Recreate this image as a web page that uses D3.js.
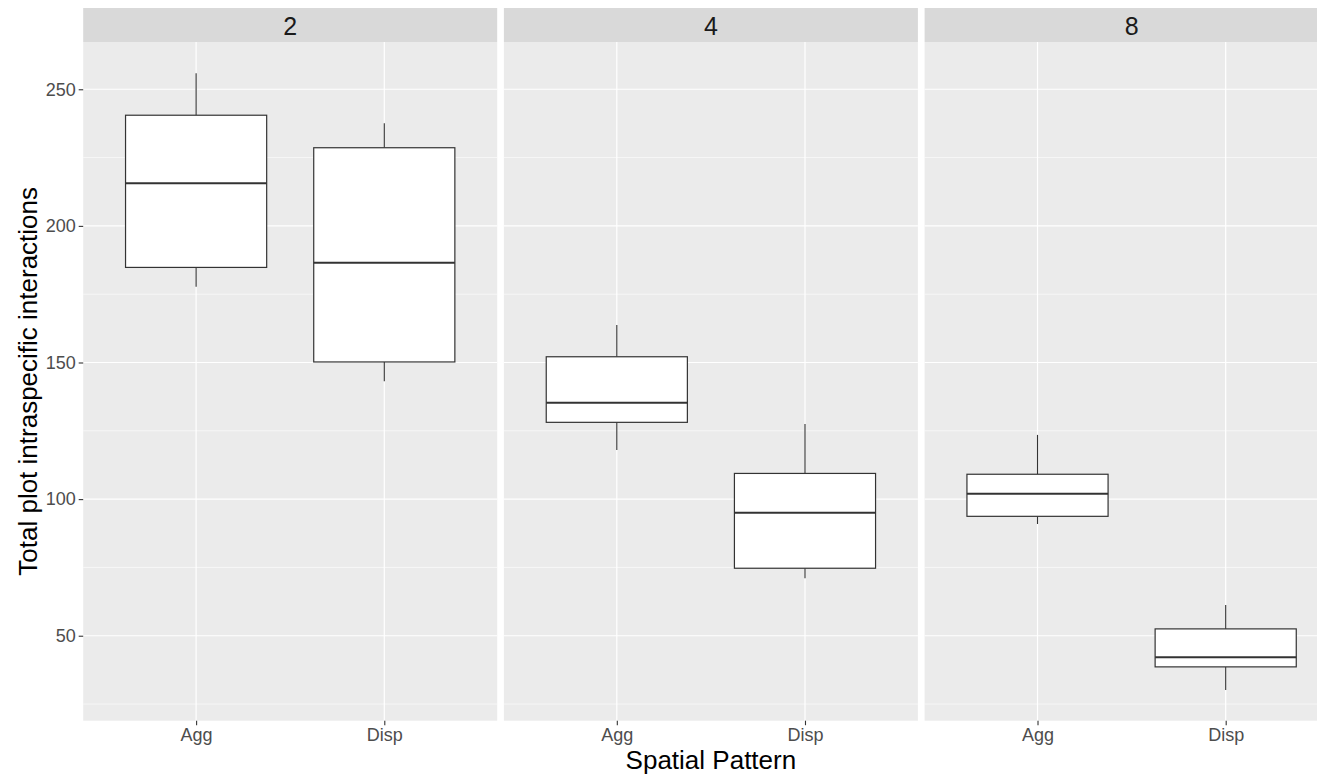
<!DOCTYPE html>
<html>
<head>
<meta charset="utf-8">
<script src="https://cdn.jsdelivr.net/npm/d3@7"></script>
<style>
  body { margin: 0; background: #fff; }
  svg { display: block; font-family: "Liberation Sans", Arial, sans-serif; }
</style>
</head>
<body>
<div id="chart"></div>
<script>
// facets and categories
var facets = ["2", "4", "8"];
var patterns = ["Agg", "Disp"];

// box stats per facet, order Agg then Disp
var lowWhisker = [[177.7, 143.1], [118.0, 71.0], [90.9, 30.1]];
var q1Values   = [[184.8, 150.2], [128.1, 74.7], [93.7, 38.6]];
var medians    = [[215.6, 186.5], [135.3, 95.0], [102.0, 42.1]];
var q3Values   = [[240.5, 228.6], [152.1, 109.4], [109.1, 52.5]];
var highWhisker = [[255.9, 237.6], [163.7, 127.5], [123.5, 61.2]];

var yTicks = [50, 100, 150, 200, 250];
var yMinor = [25, 75, 125, 175, 225];

var width = 1317, height = 776;
var panelTop = 42, panelBottom = 720.7;
var stripTop = 8;
var panelLeft = 83.2, panelW = 414, gap = 6.7;

var svg = d3.select("#chart").append("svg")
  .attr("width", width)
  .attr("height", height);

var y = d3.scaleLinear().domain([18.9, 267.3]).range([panelBottom, panelTop]);

facets.forEach(function(f, i) {
  var x0 = panelLeft + i * (panelW + gap);
  var g = svg.append("g").attr("transform", "translate(" + x0 + ",0)");

  // discrete x scale, ggplot-style expansion of 0.6
  var x = d3.scalePoint().domain(patterns).range([0, panelW]).padding(0.6);
  var step = x.step();

  // strip
  g.append("rect")
    .attr("x", 0).attr("y", stripTop)
    .attr("width", panelW).attr("height", panelTop - stripTop)
    .attr("fill", "#d9d9d9");
  g.append("text")
    .attr("x", panelW / 2).attr("y", 35)
    .attr("text-anchor", "middle")
    .attr("font-size", "25px")
    .attr("fill", "#1a1a1a")
    .text(f);

  // panel background
  g.append("rect")
    .attr("x", 0).attr("y", panelTop)
    .attr("width", panelW).attr("height", panelBottom - panelTop)
    .attr("fill", "#ebebeb");

  // minor grid
  g.selectAll(".minor").data(yMinor).enter().append("line")
    .attr("x1", 0).attr("x2", panelW)
    .attr("y1", function(d) { return y(d); })
    .attr("y2", function(d) { return y(d); })
    .attr("stroke", "#fff").attr("stroke-width", 0.6);

  // major grid
  g.selectAll(".major").data(yTicks).enter().append("line")
    .attr("x1", 0).attr("x2", panelW)
    .attr("y1", function(d) { return y(d); })
    .attr("y2", function(d) { return y(d); })
    .attr("stroke", "#fff").attr("stroke-width", 1.2);
  g.selectAll(".vmajor").data(patterns).enter().append("line")
    .attr("x1", function(d) { return x(d); })
    .attr("x2", function(d) { return x(d); })
    .attr("y1", panelTop).attr("y2", panelBottom)
    .attr("stroke", "#fff").attr("stroke-width", 1.2);

  // boxes
  var boxW = step * 0.75;
  patterns.forEach(function(p, j) {
    var cx = x(p);
    g.append("line")
      .attr("x1", cx).attr("x2", cx)
      .attr("y1", y(highWhisker[i][j])).attr("y2", y(q3Values[i][j]))
      .attr("stroke", "#333").attr("stroke-width", 1.1);
    g.append("line")
      .attr("x1", cx).attr("x2", cx)
      .attr("y1", y(q1Values[i][j])).attr("y2", y(lowWhisker[i][j]))
      .attr("stroke", "#333").attr("stroke-width", 1.1);
    g.append("rect")
      .attr("x", cx - boxW / 2).attr("y", y(q3Values[i][j]))
      .attr("width", boxW).attr("height", y(q1Values[i][j]) - y(q3Values[i][j]))
      .attr("fill", "#fff").attr("stroke", "#333").attr("stroke-width", 1.2);
    g.append("line")
      .attr("x1", cx - boxW / 2).attr("x2", cx + boxW / 2)
      .attr("y1", y(medians[i][j])).attr("y2", y(medians[i][j]))
      .attr("stroke", "#333").attr("stroke-width", 2);
  });

  // x axis
  var xAxis = g.append("g")
    .attr("transform", "translate(0," + panelBottom + ")")
    .call(d3.axisBottom(x).tickSize(4.5).tickPadding(3));
  xAxis.select(".domain").remove();
  xAxis.selectAll("line").attr("stroke", "#333").attr("stroke-width", 1.1);
  xAxis.selectAll("text")
    .attr("fill", "#4d4d4d")
    .attr("font-size", "18px")
    .attr("font-family", "Liberation Sans, Arial, sans-serif");

  if (i === 0) {
    var yAxis = g.append("g")
      .call(d3.axisLeft(y).tickValues(yTicks).tickSize(4.5).tickPadding(3));
    yAxis.select(".domain").remove();
    yAxis.selectAll("line").attr("stroke", "#333").attr("stroke-width", 1.1);
    yAxis.selectAll("text")
      .attr("fill", "#4d4d4d")
      .attr("font-size", "18px")
      .attr("font-family", "Liberation Sans, Arial, sans-serif");
  }
});

// axis titles
svg.append("text")
  .attr("x", panelLeft + (3 * panelW + 2 * gap) / 2)
  .attr("y", 769)
  .attr("text-anchor", "middle")
  .attr("font-size", "26px")
  .attr("fill", "#000")
  .text("Spatial Pattern");

svg.append("text")
  .attr("transform", "translate(37," + ((panelTop + panelBottom) / 2) + ") rotate(-90)")
  .attr("text-anchor", "middle")
  .attr("font-size", "26px")
  .attr("fill", "#000")
  .text("Total plot intraspecific interactions");
</script>
</body>
</html>
